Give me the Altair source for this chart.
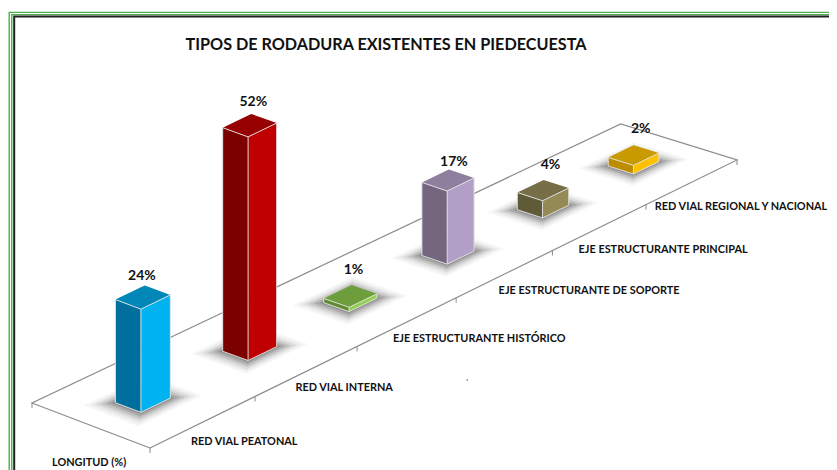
import altair as alt
import pandas as pd

# ---- values ----
TITLE = "TIPOS DE RODADURA EXISTENTES EN PIEDECUESTA"
SERIES_NAME = "LONGITUD (%)"
categories = ["RED VIAL PEATONAL", "RED VIAL INTERNA", "EJE ESTRUCTURANTE  HISTÓRICO",
              "EJE ESTRUCTURANTE  DE SOPORTE", "EJE ESTRUCTURANTE  PRINCIPAL",
              "RED VIAL REGIONAL Y NACIONAL"]
values = [24, 52, 1, 17, 4, 2]
left_colors = ["#006F9E", "#7B0000", "#5F8A30", "#75657F", "#5F5A38", "#BD8C00"]
right_colors = ["#00B2F0", "#C00000", "#92D050", "#B29FC7", "#948A55", "#FFC000"]
top_colors = ["#0087B8", "#960000", "#6E9E3C", "#8E7F9E", "#766E47", "#C99900"]

# ---- oblique 3-D projection of the floor ----
N = len(categories)
PX_PER_PCT = 4.3
PERSP = 1.09
ORIGIN = (150.0, 448.0)
ALONG = (587.0, -288.0)
DEPTH0 = (-118.0, -45.0)
DEPTH_DRIFT = (1.7, 9.0)
HALF_U, HALF_V = 0.14, 0.108
BAR_U_SHIFT = [0.49, 0.52, 0.52, 0.52, 0.52, 0.5]


def floor(u, v):
    t = u / N
    s = t * PERSP / (1 + (PERSP - 1) * t)
    fx = ORIGIN[0] + s * ALONG[0]
    fy = ORIGIN[1] + s * ALONG[1]
    return (fx + v * (DEPTH0[0] + s * DEPTH_DRIFT[0]), fy + v * (DEPTH0[1] + s * DEPTH_DRIFT[1]))


def area_rows(group, fill, pts):
    rows = []
    n = len(pts)
    for x in sorted({p[0] for p in pts}):
        ys = []
        for i in range(n):
            a, b = pts[i], pts[(i + 1) % n]
            lo, hi = min(a[0], b[0]), max(a[0], b[0])
            if lo <= x <= hi:
                if a[0] == b[0]:
                    ys += [a[1], b[1]]
                else:
                    ys.append(a[1] + (x - a[0]) / (b[0] - a[0]) * (b[1] - a[1]))
        rows.append({"g": group, "fill": fill, "x": x, "y": min(ys), "y2": max(ys)})
    return rows


polys, lines = [], []


def add_line(group, color, width, pts):
    for k, p in enumerate(pts):
        lines.append({"g": group, "stroke": color, "w": width, "k": k, "x": p[0], "y": p[1]})


# soft shadows on the floor
for f, shade in [(2.15, "#f6f6f6"), (1.95, "#ebebeb"), (1.75, "#dadada"), (1.55, "#c4c4c4"), (1.35, "#aaaaaa"), (1.15, "#909090")]:
    for i in range(N):
        uc, vc = i + BAR_U_SHIFT[i], 0.5
        sh = [floor(uc - HALF_U * f, vc - HALF_V * f), floor(uc + HALF_U * f, vc - HALF_V * f),
              floor(uc + HALF_U * f, vc + HALF_V * f), floor(uc - HALF_U * f, vc + HALF_V * f)]
        polys += area_rows(f"s{f}-{i}", shade, sh)

# bars
tops = []
for i, val in enumerate(values):
    uc, vc = i + BAR_U_SHIFT[i], 0.5
    front = floor(uc - HALF_U, vc - HALF_V)
    right = floor(uc + HALF_U, vc - HALF_V)
    back = floor(uc + HALF_U, vc + HALF_V)
    left = floor(uc - HALF_U, vc + HALF_V)
    h = val * PX_PER_PCT
    up = lambda p: (p[0], p[1] - h)
    polys += area_rows(f"L{i}", left_colors[i], [left, front, up(front), up(left)])
    polys += area_rows(f"R{i}", right_colors[i], [front, right, up(right), up(front)])
    polys += area_rows(f"T{i}", top_colors[i], [up(left), up(front), up(right), up(back)])
    add_line(f"e1{i}", "#e6e6e6", 1, [left, up(left), up(front), up(right), right])
    add_line(f"e2{i}", "#e6e6e6", 1, [up(front), front])
    add_line(f"e3{i}", "#e6e6e6", 1, [left, front, right])
    tops.append(up(back))

# floor outline and ticks
GRID = "#8c8c8c"
add_line("floor", GRID, 1.2, [floor(0, 0), floor(0, 1), floor(N, 1), floor(N, 0), floor(0, 0)])
for i in range(N + 1):
    p = floor(i, 0)
    add_line(f"t{i}", GRID, 1, [p, (p[0], p[1] + 5)])
p = floor(0, 1)
add_line("t-left", GRID, 1, [p, (p[0], p[1] + 5)])
add_line("speck", "#444444", 1, [(466.5, 380), (468, 380)])

# page frame
RIGHT = 829
add_line("g1", "#4CAF50", 1.4, [(9.2, 470), (9.2, 12.4), (RIGHT, 12.4)])
add_line("g2", "#4CAF50", 1.4, [(11.8, 470), (11.8, 14.6), (RIGHT, 14.6)])
add_line("k", "#222222", 2, [(14.2, 470), (14.2, 16.6), (RIGHT, 16.6)])

# text: nudges relative to the projected floor / bar tops
label_nudge = [(-12, 20), (-11, 17), (-14, 17), (-6, 17), (-21, 23), (-37, 25)]
top_nudge = [(-3, -9), (2, -12), (2, -15), (5, -7), (7, -15), (7, -16)]
cat_rows = []
for i, c in enumerate(categories):
    p = floor(i + 0.5, 0)
    cat_rows.append({"t": c, "x": p[0] + label_nudge[i][0], "y": p[1] + label_nudge[i][1]})
p = floor(0, 0)
cat_rows.append({"t": SERIES_NAME, "x": p[0] - 98, "y": p[1] + 15})
val_rows = [{"t": f"{v}%", "x": tops[i][0] + top_nudge[i][0], "y": tops[i][1] + top_nudge[i][1]}
            for i, v in enumerate(values)]
title_rows = [{"t": TITLE, "x": 386, "y": 45}]

xs = alt.Scale(domain=[8, RIGHT], nice=False, zero=False)
ys = alt.Scale(domain=[470, 8], nice=False, zero=False)
X = alt.X("x:Q", scale=xs, axis=None)
Y = alt.Y("y:Q", scale=ys, axis=None)

shadow_bar = alt.Chart(pd.DataFrame(polys)).mark_area(opacity=1, clip=True).encode(
    X, Y, y2="y2:Q", detail="g:N",
    color=alt.Color("fill:N", scale=None),
)
line_df = pd.DataFrame(lines)
floor_lines = alt.Chart(line_df[~line_df.g.str.startswith("e")]).mark_line(clip=True).encode(
    X, Y, detail="g:N", order="k:Q",
    color=alt.Color("stroke:N", scale=None),
    strokeWidth=alt.StrokeWidth("w:Q", scale=None),
)
edge_lines = alt.Chart(line_df[line_df.g.str.startswith("e")]).mark_line(clip=True, opacity=0.9).encode(
    X, Y, detail="g:N", order="k:Q",
    color=alt.Color("stroke:N", scale=None),
    strokeWidth=alt.StrokeWidth("w:Q", scale=None),
)
FONT = "Lato"
cats = alt.Chart(pd.DataFrame(cat_rows)).mark_text(
    align="left", baseline="middle", font=FONT, fontWeight="bold", fontSize=10.9, color="#111111"
).encode(X, Y, text="t:N")
vals = alt.Chart(pd.DataFrame(val_rows)).mark_text(
    align="center", baseline="middle", font=FONT, fontWeight="bold", fontSize=14, color="#111111"
).encode(X, Y, text="t:N")
title = alt.Chart(pd.DataFrame(title_rows)).mark_text(
    align="center", baseline="middle", font=FONT, fontWeight="bold", fontSize=16.2, color="#111111"
).encode(X, Y, text="t:N")

chart = alt.layer(floor_lines, shadow_bar, edge_lines, cats, vals, title).resolve_scale(
    color="independent"
).properties(
    width=821, height=462, padding=0, autosize=alt.AutoSizeParams(type="none"), background="white"
).configure_view(stroke=None)

chart.save("out.html", embed_options={"renderer": "svg", "actions": False})
